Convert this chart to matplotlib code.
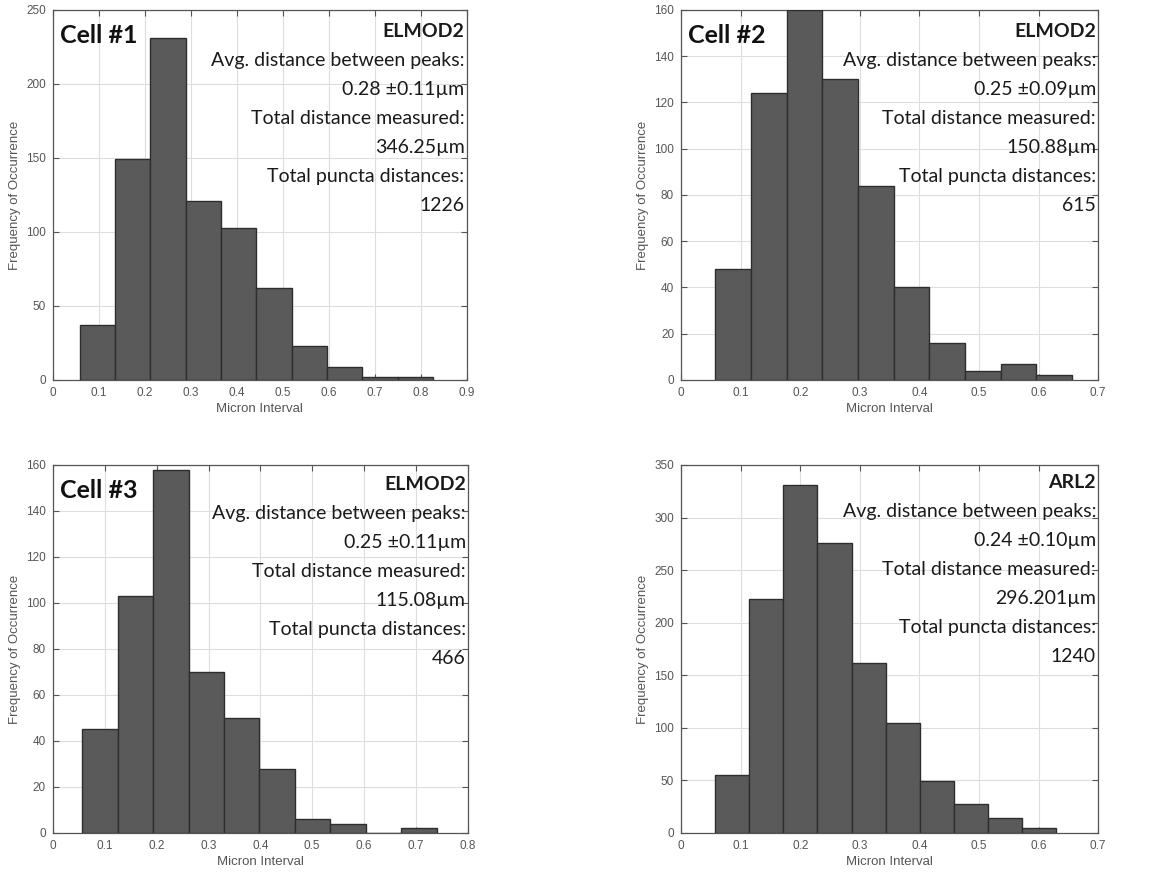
import numpy as np
import matplotlib
matplotlib.use('Agg')
import matplotlib.pyplot as plt

# histogram counts (10 bins each)
cell1_counts = [37, 149, 231, 121, 103, 62, 23, 9, 2, 2]
cell2_counts = [48, 124, 160, 130, 84, 40, 16, 4, 7, 2]
cell3_counts = [45, 103, 158, 70, 50, 28, 6, 4, 0, 2]
arl2_counts = [55, 223, 331, 276, 162, 105, 49, 28, 14, 5]

# first / last bin edge of each histogram (micron)
cell1_range = (0.058, 0.827)
cell2_range = (0.0575, 0.656)
cell3_range = (0.0566, 0.740)
arl2_range = (0.0575, 0.629)

cell_titles = ['Cell #1', 'Cell #2', 'Cell #3', '']
protein = ['ELMOD2', 'ELMOD2', 'ELMOD2', 'ARL2']
avg_dist = ['0.28 \u00b10.11\u00b5m', '0.25 \u00b10.09\u00b5m', '0.25 \u00b10.11\u00b5m', '0.24 \u00b10.10\u00b5m']
total_dist = ['346.25\u00b5m', '150.88\u00b5m', '115.08\u00b5m', '296.201\u00b5m']
total_puncta = ['1226', '615', '466', '1240']

x_max = [0.9, 0.7, 0.8, 0.7]
y_max = [250, 160, 160, 350]
y_step = [50, 20, 20, 50]

counts = [cell1_counts, cell2_counts, cell3_counts, arl2_counts]
ranges = [cell1_range, cell2_range, cell3_range, arl2_range]

plt.rcParams['font.family'] = ['Liberation Sans', 'DejaVu Sans']

fig = plt.figure(figsize=(11.75, 8.81), dpi=100)
# axes rectangles in figure fractions
rects = [[0.0451, 0.5687, 0.352, 0.420],
         [0.5796, 0.5687, 0.355, 0.420],
         [0.0451, 0.0545, 0.353, 0.4177],
         [0.5796, 0.0545, 0.355, 0.4177]]
title_y = [0.927, 0.927, 0.932, 0.9375]

tick_col = '#555555'
for i in range(4):
    ax = fig.add_axes(rects[i])
    edges = np.linspace(ranges[i][0], ranges[i][1], len(counts[i]) + 1)
    ax.bar(edges[:-1], counts[i], width=np.diff(edges), align='edge',
           color='#5a5a5a', edgecolor='#2e2e2e', linewidth=1.0, zorder=3)
    ax.set_xlim(0, x_max[i])
    ax.set_ylim(0, y_max[i])
    ax.set_xticks(np.arange(0, x_max[i] + 0.001, 0.1))
    ax.set_xticklabels(['0'] + ['%.1f' % v for v in np.arange(0.1, x_max[i] + 0.001, 0.1)])
    ax.set_yticks(np.arange(0, y_max[i] + 1, y_step[i]))
    ax.grid(True, color='#dedede', linewidth=0.8, zorder=0)
    ax.tick_params(direction='in', top=True, right=True, length=4, width=0.8,
                   colors=tick_col, labelsize=8.5, pad=5)
    for s in ax.spines.values():
        s.set_color('#555555')
        s.set_linewidth(0.9)
    ax.set_xlabel('Micron Interval', fontsize=9.5, color=tick_col, labelpad=3)
    ax.set_ylabel('Frequency of Occurrence', fontsize=9.5, color=tick_col, labelpad=4)

    # annotation block, right aligned
    lines = [protein[i], 'Avg. distance between peaks:', avg_dist[i],
             'Total distance measured:', total_dist[i],
             'Total puncta distances:', total_puncta[i]]
    step = 29.0 / (rects[i][3] * 881)
    for k, t in enumerate(lines):
        ax.text(0.995, title_y[i] - k * step, t, transform=ax.transAxes,
                ha='right', va='baseline', fontsize=14, family='Lato',
                fontweight='bold' if k == 0 else 'normal', color='#1a1a1a', zorder=5)
    if cell_titles[i]:
        ax.text(0.017, 0.91, cell_titles[i], transform=ax.transAxes, ha='left',
                va='baseline', fontsize=18, family='Lato', fontweight='bold',
                color='#111111', zorder=5)

fig.savefig('out.png', dpi=100)
